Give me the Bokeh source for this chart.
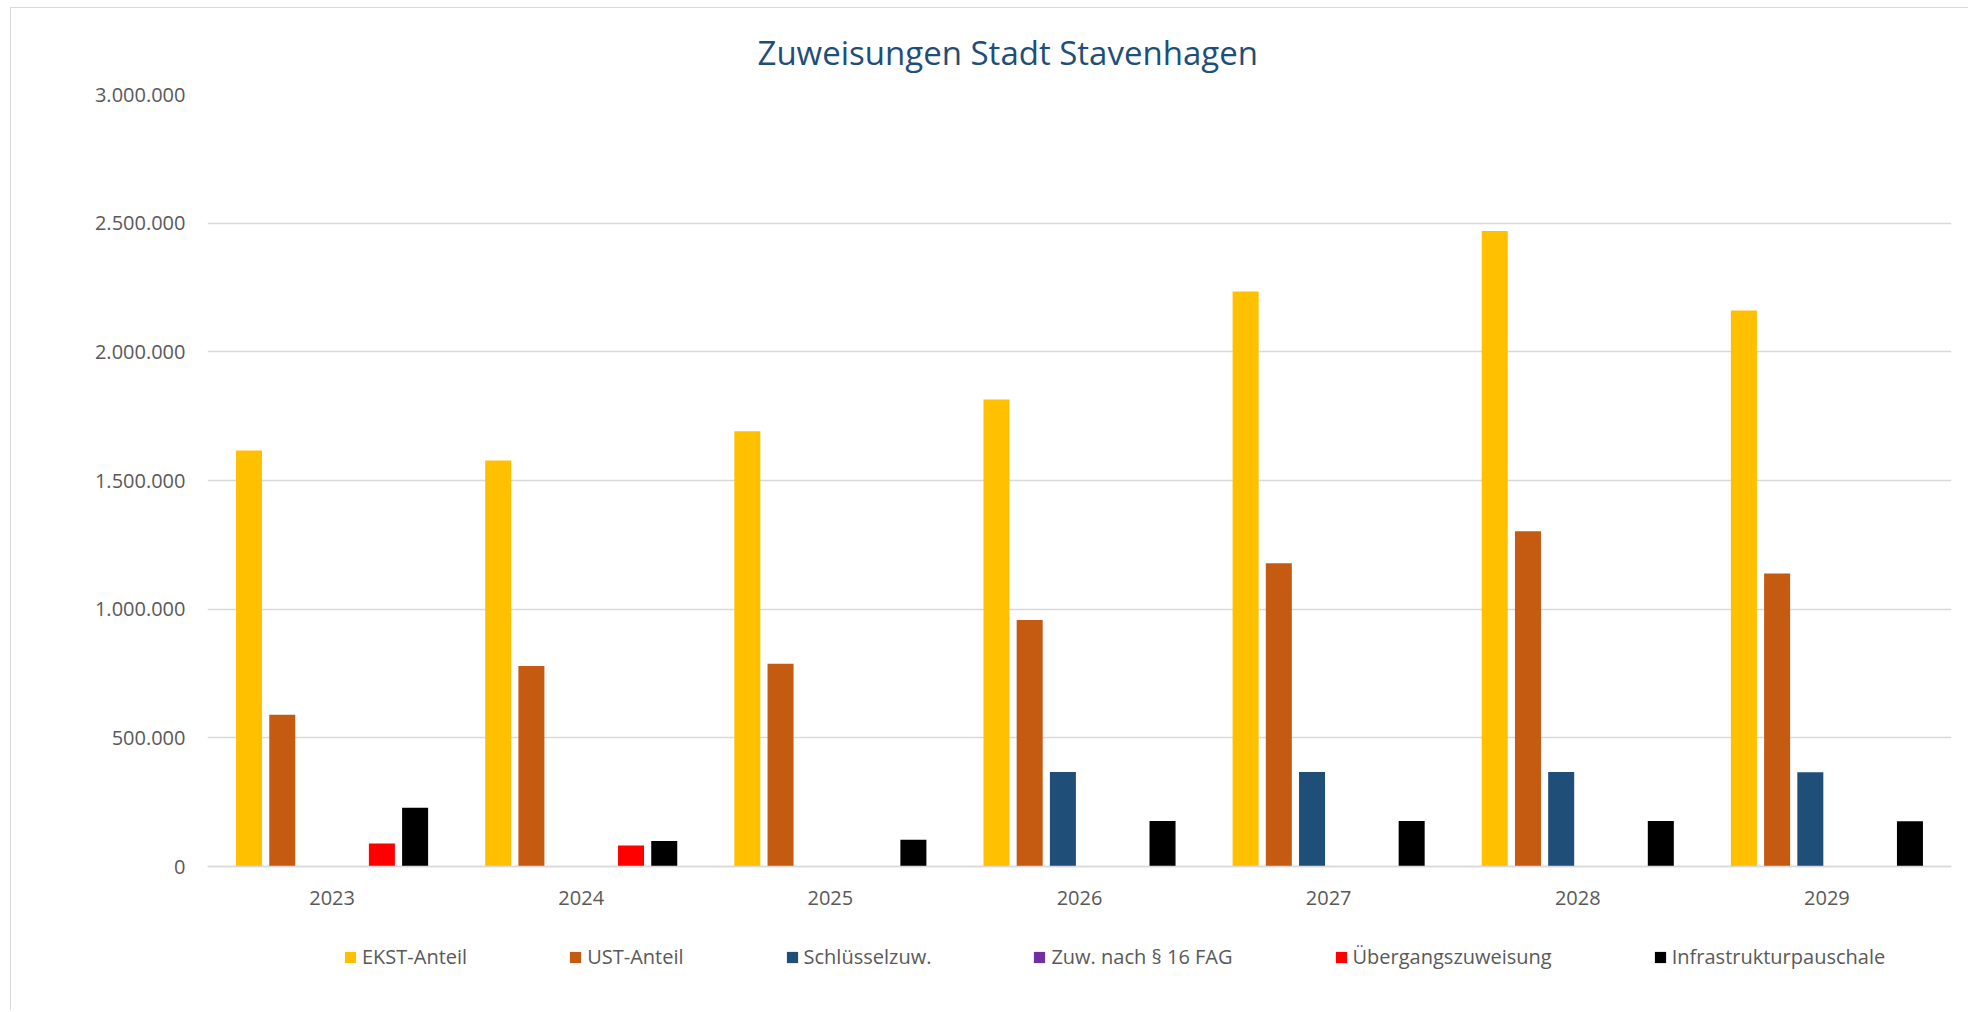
from bokeh.plotting import figure
from bokeh.models import FactorRange, Range1d, FixedTicker, Legend, LegendItem, ColumnDataSource, Span
from bokeh.transform import dodge
from bokeh.core.properties import value
from bokeh.embed import file_html
from bokeh.resources import INLINE

years = ["2023", "2024", "2025", "2026", "2027", "2028", "2029"]
ekst_anteil = [1617000, 1578000, 1691000, 1815000, 2234000, 2470000, 2161000]
ust_anteil = [590000, 779000, 788000, 958000, 1178000, 1303000, 1139000]
schluesselzuw = [0, 0, 0, 367000, 367000, 367000, 366000]
zuw_16_fag = [0, 0, 0, 0, 0, 0, 0]
uebergangszuweisung = [89000, 82000, 0, 0, 0, 0, 0]
infrastrukturpauschale = [228000, 99000, 104000, 177000, 177000, 177000, 176000]

series_names = ["EKST-Anteil", "UST-Anteil", "Schlüsselzuw.", "Zuw. nach § 16 FAG",
                "Übergangszuweisung", "Infrastrukturpauschale"]
series_values = [ekst_anteil, ust_anteil, schluesselzuw, zuw_16_fag,
                 uebergangszuweisung, infrastrukturpauschale]
colors = ["#FFC000", "#C55A11", "#1F4E79", "#7030A0", "#FF0000", "#000000"]

y_ticks = [0, 500000, 1000000, 1500000, 2000000, 2500000, 3000000]
y_tick_labels = ["0", "500.000", "1.000.000", "1.500.000", "2.000.000", "2.500.000", "3.000.000"]

title_text = "Zuweisungen Stadt Stavenhagen"

FONT = "Open Sans"
TXT = "#595959"
GRID = "#D9D9D9"

# layout (pixels)
W, H = 1958, 1003
BL, BR, BT, BB = 196, 18, 86, 21
frame_h = H - BT - BB
value_h = 772  # pixels used by the 0..3.000.000 value axis
y_top = y_ticks[-1]
y_bottom = -y_top * (frame_h - value_h) / value_h

src = {"year": years}
keys = []
for i, vals in enumerate(series_values):
    k = f"s{i}"
    keys.append(k)
    src[k] = vals
source = ColumnDataSource(src)

p = figure(x_range=FactorRange(*years), y_range=Range1d(y_bottom, y_top),
           width=W, height=H, output_backend="svg", toolbar_location=None,
           min_border_left=BL, min_border_right=BR, min_border_top=BT, min_border_bottom=BB)

p.styles = {"border-left": "1px solid #D9D9D9", "border-top": "1px solid #D9D9D9",
            "margin-left": "10px", "margin-top": "7px"}

p.title.text = title_text
p.title.text_font = FONT
p.title.text_font_size = "33px"
p.title.text_font_style = "normal"
p.title.text_color = "#1F4E79"
p.title.align = "left"
p.title.offset = 550
p.title.standoff = 39

p.outline_line_color = None
p.xgrid.grid_line_color = None
p.ygrid.grid_line_color = GRID
p.ygrid.grid_line_width = 1.3

pitch = 0.1333
bw = 0.1044
items = []
for i, k in enumerate(keys):
    off = (i - 2.5) * pitch
    r = p.vbar(x=dodge("year", off, range=p.x_range), top=k, width=bw, source=source,
               fill_color=colors[i], line_color=None)
    items.append(LegendItem(label=series_names[i], renderers=[r]))

p.yaxis.ticker = FixedTicker(ticks=y_ticks)
p.yaxis.major_label_overrides = {t: l for t, l in zip(y_ticks, y_tick_labels)}
p.yaxis.axis_line_color = None
p.yaxis.major_tick_line_color = None
p.yaxis.minor_tick_line_color = None
p.yaxis.major_tick_out = 0
p.yaxis.major_tick_in = 0
p.yaxis.major_label_standoff = 22
p.yaxis.major_label_text_font = FONT
p.yaxis.major_label_text_font_size = "20px"
p.yaxis.major_label_text_color = TXT

p.xaxis.visible = False

# category axis line at zero and category labels
p.add_layout(Span(location=0, dimension="width", line_color=GRID, line_width=1.3))
p.text(x=years, y=[0] * len(years), text=years, text_align="center", text_baseline="middle",
       y_offset=31, text_font=value(FONT), text_font_size="20px", text_color=TXT)

legend = Legend(items=items, orientation="horizontal", spacing=101, glyph_width=14, glyph_height=14,
                label_standoff=5, label_text_font=FONT, label_text_font_size="20px",
                label_text_color=TXT, border_line_color=None, background_fill_alpha=0,
                location=(136, 20), padding=0, margin=0)
p.add_layout(legend, "center")

open("out.html", "w").write(file_html(p, INLINE))
